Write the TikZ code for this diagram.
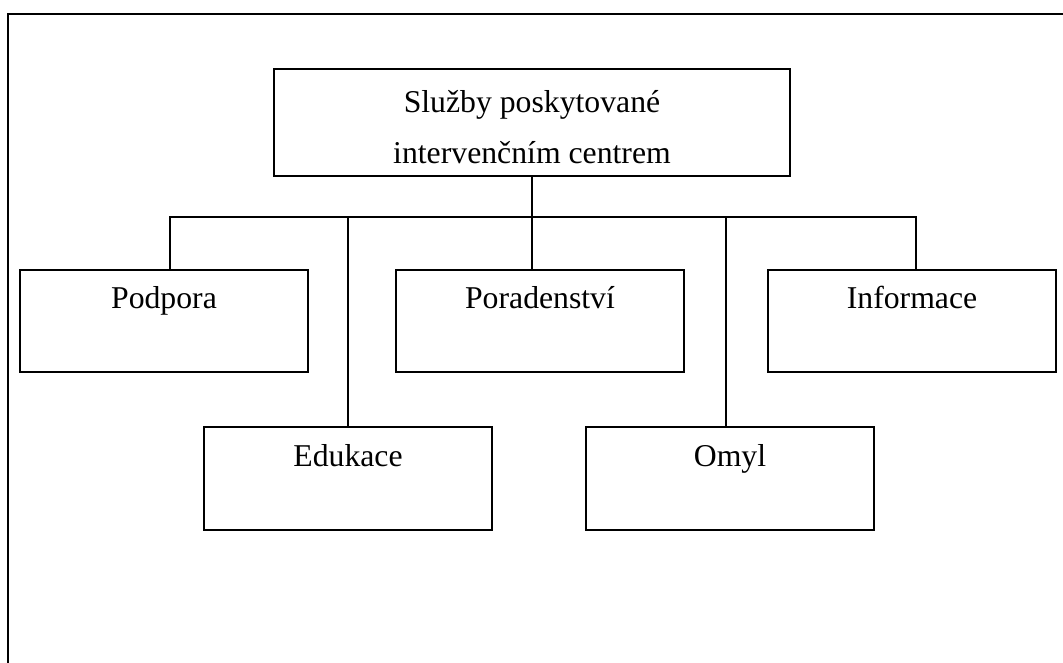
\documentclass[tikz,border=0pt]{standalone}
\usepackage{fontspec}
\setmainfont{Liberation Serif}
\begin{document}
\begin{tikzpicture}[x=0.75pt, y=-0.75pt,
  box/.style={draw=black, line width=1.4pt, minimum width=216pt, minimum height=76.5pt, inner sep=0pt},
  lbl/.style={anchor=base, inner sep=0pt, font=\fontsize{23.8pt}{28pt}\selectfont},
  wire/.style={draw=black, line width=1.2pt},
  frame/.style={draw=black, line width=2pt}]
\useasboundingbox (0,0) rectangle (1063,662);
\clip (0,0) rectangle (1063,662);
% page frame, open to the right and bottom
\draw[frame] (8,680) -- (8,14) -- (1080,14);

% boxes
\node[box, minimum width=387pt, minimum height=80pt] (top) at (532,122.5) {};
\node[box] (pod) at (164,321) {};
\node[box] (por) at (540,321) {};
\node[box] (inf) at (912,321) {};
\node[box, minimum height=77.25pt] (edu) at (348,478.5) {};
\node[box, minimum height=77.25pt] (omy) at (730,478.5) {};

% labels
\node[lbl] (t1) at ([yshift=-44*0.75pt]top.north) {Služby poskytované};
\node[lbl] (t2) at ([yshift=-95*0.75pt]top.north) {intervenčním centrem};
\node[lbl] (l1) at ([yshift=-39*0.75pt]pod.north) {Podpora};
\node[lbl] (l2) at ([yshift=-39*0.75pt]por.north) {Poradenství};
\node[lbl] (l3) at ([yshift=-39*0.75pt]inf.north) {Informace};
\node[lbl] (l4) at ([yshift=-40*0.75pt]edu.north) {Edukace};
\node[lbl] (l5) at ([yshift=-40*0.75pt]omy.north) {Omyl};

% connector attachment points
\coordinate (bus) at (532,217);
\coordinate (podT) at (170,270);
\coordinate (infT) at (916,270);
\coordinate (omyT) at (726,427);

% connectors
\draw[wire] (top.south) -- (top.south |- por.north);
\draw[wire] (podT) -- (podT |- bus) -- (infT |- bus) -- (infT);
\draw[wire] (edu.north |- bus) -- (edu.north);
\draw[wire] (omyT |- bus) -- (omyT);
\end{tikzpicture}
\end{document}
